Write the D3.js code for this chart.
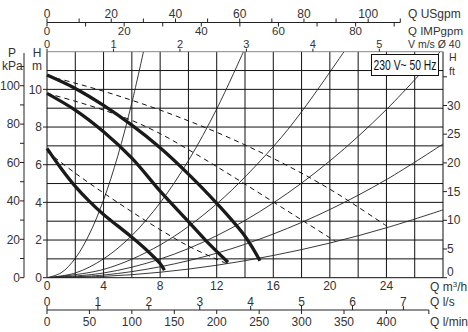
<!DOCTYPE html>
<html><head><meta charset="utf-8">
<script src="https://cdn.jsdelivr.net/npm/d3@7"></script>
<style>
body{margin:0;background:#fff}
text{font-family:"Liberation Sans",Arial,sans-serif;font-size:12px;fill:#333}
</style>
</head><body>
<svg id="c" width="468" height="332"></svg>
<script>
// ---- tick values ----
const qLabels = [0, 4, 8, 12, 16, 20, 24];
const qGrid = [0, 2, 4, 6, 8, 10, 12, 14, 16, 18, 20, 22, 24, 26, 28];
const hLabels = [0, 2, 4, 6, 8, 10];
const hGrid = [0, 1, 2, 3, 4, 5, 6, 7, 8, 9, 10, 11, 12];
const pTicks = [0, 10, 20, 30, 40, 50, 60, 70, 80, 90, 100, 110];
const pLabels = [0, 20, 40, 60, 80, 100];
const ftTicks = [0, 5, 10, 15, 20, 25, 30, 35];
const ftLabels = [0, 5, 10, 15, 20, 25, 30];
const usTicks = [0, 10, 20, 30, 40, 50, 60, 70, 80, 90, 100, 110];
const usLabels = [0, 20, 40, 60, 80, 100];
const impTicks = [0, 10, 20, 30, 40, 50, 60, 70, 80, 90];
const impLabels = [0, 20, 40, 60, 80];
const vLabels = [0, 1, 2, 3, 4, 5];
const lsLabels = [0, 1, 2, 3, 4, 5, 6, 7];
const lminTicks = [0, 50, 100, 150, 200, 250, 300, 350, 400, 450];
const lminLabels = [0, 50, 100, 150, 200, 250, 300, 350, 400];

// ---- pump curves (Q m3/h, H m) ----
const speed3Q = [0, 2, 4, 6, 8, 10, 12, 14, 15.06];
const speed3H = [10.76, 10.05, 9.15, 8.1, 6.9, 5.5, 3.95, 2.2, 0.9];
const speed2Q = [0, 2, 4, 6, 8, 10, 11.2, 12.8];
const speed2H = [9.79, 8.9, 7.75, 6.35, 4.6, 2.98, 2.0, 0.82];
const speed1Q = [0, 1, 2, 3, 4, 5, 6, 7, 8, 8.3];
const speed1H = [6.87, 5.8, 4.85, 4.05, 3.35, 2.75, 2.15, 1.5, 0.75, 0.4];
// dashed curves
const dash3Q = [0, 2, 4, 6, 8, 10, 12, 14, 16, 18, 20, 22, 24.1];
const dash3H = [10.72, 10.33, 9.9, 9.42, 8.9, 8.33, 7.72, 7.05, 6.33, 5.55, 4.7, 3.75, 2.7];
const dash2Q = [0, 2, 4, 6, 8, 10, 12, 14, 16, 18, 20, 20.4];
const dash2H = [9.79, 9.37, 8.9, 8.35, 7.65, 6.8, 5.9, 4.97, 4.02, 3.07, 2.12, 1.93];
const dash1Q = [0, 2, 4, 6, 8, 10, 12, 12.8];
const dash1H = [6.7, 5.55, 4.5, 3.5, 2.55, 1.68, 0.98, 0.72];
// system curves
const sys1Q = [0, 1, 2, 3, 4, 5, 6, 6.82];
const sys1H = [0, 0.26, 1.03, 2.32, 4.13, 6.45, 9.29, 12];
const sys2Q = [0, 2, 4, 6, 8, 10, 12, 13.89];
const sys2H = [0, 0.25, 1.0, 2.24, 3.98, 6.22, 8.96, 12];
const sys3Q = [0, 4, 8, 12, 16, 18, 21];
const sys3H = [0, 0.44, 1.74, 3.92, 6.96, 8.81, 12];
const sys4Q = [0, 4, 8, 12, 16, 20, 24, 27.8];
const sys4H = [0, 0.25, 0.99, 2.23, 3.97, 6.2, 8.93, 12];
const sys5Q = [0, 4, 8, 12, 16, 20, 24, 28];
const sys5H = [0, 0.14, 0.58, 1.3, 2.32, 3.62, 5.21, 7.1];
const sys6Q = [0, 4, 8, 12, 16, 20, 24, 28];
const sys6H = [0, 0.07, 0.29, 0.66, 1.18, 1.84, 2.65, 3.6];

const svg = d3.select("#c");
const L = 47, R = 443, T = 51.7, B = 277.7;
const x = d3.scaleLinear().domain([0, 28]).range([L, R]);
const y = d3.scaleLinear().domain([0, 12]).range([B, T]);
const yP = d3.scaleLinear().domain([0, 12 * 9.81]).range([B, T]);
const yFt = d3.scaleLinear().domain([0, 12 / 0.3048]).range([B, T]);
const xUS = d3.scaleLinear().domain([0, 28 / 0.2271]).range([L, R]);
const xIMP = d3.scaleLinear().domain([0, 28 / 0.27277]).range([L, R]);
const xV = d3.scaleLinear().domain([0, 28 / 4.7]).range([L, R]);
const xLs = d3.scaleLinear().domain([0, 28 / 3.6]).range([L, R]);
const xLmin = d3.scaleLinear().domain([0, 28 / 0.06]).range([L, R]);

// grid
const g = svg.append("g");
g.selectAll(".vg").data(qGrid).enter().append("line")
  .attr("x1", d => x(d)).attr("x2", d => x(d)).attr("y1", T).attr("y2", B)
  .attr("stroke", "#111").attr("stroke-width", 1);
g.selectAll(".hg").data(hGrid).enter().append("line")
  .attr("x1", L).attr("x2", R).attr("y1", d => y(d)).attr("y2", d => y(d))
  .attr("stroke", d => d === 12 ? "#888" : "#111").attr("stroke-width", 1);

// clip
svg.append("clipPath").attr("id", "pc").append("rect")
  .attr("x", L).attr("y", T).attr("width", R - L).attr("height", B - T);
const plot = svg.append("g").attr("clip-path", "url(#pc)");

function pts(qs, hs) { return qs.map((q, i) => [q, hs[i]]); }
const line = d3.line().x(d => x(d[0])).y(d => y(d[1])).curve(d3.curveCatmullRom.alpha(0.5));

[[sys1Q, sys1H], [sys2Q, sys2H], [sys3Q, sys3H], [sys4Q, sys4H], [sys5Q, sys5H], [sys6Q, sys6H]]
  .forEach(([q, h]) => plot.append("path").attr("d", line(pts(q, h)))
    .attr("fill", "none").attr("stroke", "#222").attr("stroke-width", 0.9));

[[dash1Q, dash1H], [dash2Q, dash2H], [dash3Q, dash3H]]
  .forEach(([q, h]) => plot.append("path").attr("d", line(pts(q, h)))
    .attr("fill", "none").attr("stroke", "#111").attr("stroke-width", 1)
    .attr("stroke-dasharray", "5,4"));

[[speed1Q, speed1H], [speed2Q, speed2H], [speed3Q, speed3H]]
  .forEach(([q, h]) => svg.append("path").attr("d", line(pts(q, h)))
    .attr("fill", "none").attr("stroke", "#1a1a1a").attr("stroke-width", 3.3)
    .attr("stroke-linecap", "butt"));

// ---- left P axis ----
svg.append("line").attr("x1", 24).attr("x2", 24).attr("y1", 53).attr("y2", B).attr("stroke", "#222");
svg.selectAll(".pt").data(pTicks).enter().append("line")
  .attr("x1", 20).attr("x2", 24).attr("y1", d => yP(d)).attr("y2", d => yP(d)).attr("stroke", "#222");
svg.selectAll(".pl").data(pLabels).enter().append("text")
  .attr("x", 20).attr("y", d => yP(d)).attr("dy", "0.35em").attr("text-anchor", "end").text(d => d);
svg.append("text").attr("x", 12).attr("y", 57).attr("text-anchor", "middle").text("P");
svg.append("text").attr("x", 2).attr("y", 70).text("kPa");

// ---- left H axis ----
svg.selectAll(".ht").data(hLabels).enter().append("line")
  .attr("x1", 43).attr("x2", L).attr("y1", d => y(d)).attr("y2", d => y(d)).attr("stroke", "#222");
svg.selectAll(".hl").data(hLabels).enter().append("text")
  .attr("x", 42).attr("y", d => y(d)).attr("dy", "0.35em").attr("text-anchor", "end").text(d => d);
svg.append("text").attr("x", 37).attr("y", 57).attr("text-anchor", "middle").text("H");
svg.append("text").attr("x", 37).attr("y", 70).attr("text-anchor", "middle").text("m");

// ---- right H ft axis ----
svg.selectAll(".ft").data(ftTicks).enter().append("line")
  .attr("x1", R).attr("x2", R + 4).attr("y1", d => yFt(d)).attr("y2", d => yFt(d)).attr("stroke", "#222");
svg.selectAll(".fl").data(ftLabels).enter().append("text")
  .attr("x", R + 4).attr("y", d => d === 0 ? yFt(d) - 1.5 : yFt(d)).attr("dy", d => d === 0 ? "0" : "0.35em").text(d => d);
svg.append("text").attr("x", 449).attr("y", 61).style("font-size", "10.5px").text("H");
svg.append("text").attr("x", 449).attr("y", 74.5).style("font-size", "10.5px").text("ft");

// ---- bottom Q m3/h ----
svg.selectAll(".ql").data(qLabels).enter().append("text")
  .attr("x", d => x(d)).attr("y", 290).attr("text-anchor", "middle").text(d => d);
const qm = svg.append("text").attr("x", 430).attr("y", 290.5);
qm.append("tspan").text("Q m");
qm.append("tspan").attr("dy", -4).style("font-size", "8px").text("3");
qm.append("tspan").attr("dy", 4).text("/h");

// ---- bottom l/s & l/min ----
const yb = 310;
svg.append("line").attr("x1", xLmin(0)).attr("x2", xLmin(450)).attr("y1", yb).attr("y2", yb).attr("stroke", "#222");
svg.selectAll(".lst").data(lsLabels).enter().append("line")
  .attr("x1", d => xLs(d)).attr("x2", d => xLs(d)).attr("y1", yb - 4).attr("y2", yb).attr("stroke", "#222");
svg.selectAll(".lsl").data(lsLabels).enter().append("text")
  .attr("x", d => xLs(d)).attr("y", yb - 4.5).attr("text-anchor", "middle").text(d => d);
svg.selectAll(".lmt").data(lminTicks).enter().append("line")
  .attr("x1", d => xLmin(d)).attr("x2", d => xLmin(d)).attr("y1", yb).attr("y2", yb + 4).attr("stroke", "#222");
svg.selectAll(".lml").data(lminLabels).enter().append("text")
  .attr("x", d => xLmin(d)).attr("y", yb + 16).attr("text-anchor", "middle").text(d => d);
svg.append("text").attr("x", 430).attr("y", yb - 4.5).text("Q l/s");
svg.append("text").attr("x", 430).attr("y", yb + 16).text("Q l/min");

// ---- top USgpm / IMPgpm ----
const yt = 22.5;
svg.append("line").attr("x1", xUS(0)).attr("x2", xUS(110)).attr("y1", yt).attr("y2", yt).attr("stroke", "#222");
svg.selectAll(".ust").data(usTicks).enter().append("line")
  .attr("x1", d => xUS(d)).attr("x2", d => xUS(d)).attr("y1", yt - 4).attr("y2", yt).attr("stroke", "#222");
svg.selectAll(".usl").data(usLabels).enter().append("text")
  .attr("x", d => xUS(d)).attr("y", yt - 5).attr("text-anchor", "middle").text(d => d);
svg.selectAll(".imt").data(impTicks).enter().append("line")
  .attr("x1", d => xIMP(d)).attr("x2", d => xIMP(d)).attr("y1", yt).attr("y2", yt + 4).attr("stroke", "#222");
svg.selectAll(".iml").data(impLabels).enter().append("text")
  .attr("x", d => xIMP(d)).attr("y", yt + 12.5).attr("text-anchor", "middle")
  .style("font-size", "11.5px").text(d => d);
svg.append("text").attr("x", 408).attr("y", yt + 12.5).style("font-size", "11.5px").text("Q IMPgpm");
svg.append("text").attr("x", 408).attr("y", yt - 5).text("Q USgpm");

// ---- V m/s ----
svg.selectAll(".vt").data(vLabels).enter().append("line")
  .attr("x1", d => xV(d)).attr("x2", d => xV(d)).attr("y1", T - 3).attr("y2", T).attr("stroke", "#222");
svg.selectAll(".vl").data(vLabels).enter().append("text")
  .attr("x", d => xV(d)).attr("y", 47.5).attr("text-anchor", "middle")
  .style("font-size", "11px").text(d => d);
svg.append("text").attr("x", 408).attr("y", 47.5).style("font-size", "10.5px").text("V m/s Ø 40");

// ---- box ----
svg.append("rect").attr("x", 371.5).attr("y", 54.5).attr("width", 67).attr("height", 21)
  .attr("fill", "#fff").attr("stroke", "#111");
svg.append("text").attr("transform", "translate(405,70) scale(0.69,1)")
  .attr("x", 0).attr("y", 0).attr("text-anchor", "middle")
  .style("font-size", "15px").style("fill", "#111").text("230 V~ 50 Hz");
</script>
</body></html>
